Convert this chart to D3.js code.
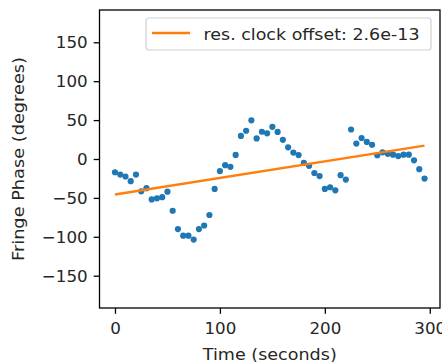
<!DOCTYPE html>
<html>
<head>
<meta charset="utf-8">
<script src="https://cdn.jsdelivr.net/npm/d3@7"></script>
<style>
  html, body { margin: 0; padding: 0; background: #fff; }
  svg { display: block; font-family: "DejaVu Sans", sans-serif; }
</style>
</head>
<body>
<svg id="chart" width="442" height="362"></svg>
<script>
// ---- data ----
const times = [0,5,10,15,20,25,30,35,40,45,50,55,60,65,70,75,80,85,90,95,
  100,105,110,115,120,125,130,135,140,145,150,155,160,165,170,175,180,185,190,195,
  200,205,210,215,220,225,230,235,240,245,250,255,260,265,270,275,280,285,290,295];
const phases = [-17,-20,-22.5,-28.5,-20,-41.5,-37.5,-52,-50.5,-49,-42,-66.5,-90,-98.5,-98.5,-103.5,-90,-85.5,-72,-38.5,
  -15.5,-8,-10,5.2,29.7,36.3,49.7,26.5,35,33,41.3,34.8,24.7,15,8.2,5,-5,-8.8,-18,-22,
  -38.5,-36.3,-40.2,-20.8,-26.4,37.9,19.8,27,22,18.3,4.8,8.6,6.7,5.6,3.7,5.6,5.6,-1.7,-13.1,-25.1];
const fitTimes = [0, 295];
const fitPhases = [-45.5, 17.2];
const legendLabel = "res. clock offset: 2.6e-13";
const xTicks = [0, 100, 200, 300];
const yTicks = [-150, -100, -50, 0, 50, 100, 150];
const xLabel = "Time (seconds)";
const yLabel = "Fringe Phase (degrees)";

// ---- layout ----
const svg = d3.select("#chart");
const L = 99.5, R = 440, T = 10, B = 308;
const fontSize = 16.7;

const x = d3.scaleLinear().domain([-14.75, 309.75]).range([L, R]);
const y = d3.scaleLinear().domain([-191.5, 191.5]).range([B, T]);

// points
svg.append("g").selectAll("circle").data(times).join("circle")
  .attr("cx", (d) => x(d))
  .attr("cy", (d, i) => y(phases[i]))
  .attr("r", 3.1)
  .attr("fill", "#1f77b4");

// fit line
svg.append("line")
  .attr("x1", x(fitTimes[0])).attr("y1", y(fitPhases[0]))
  .attr("x2", x(fitTimes[1])).attr("y2", y(fitPhases[1]))
  .attr("stroke", "#ff7f0e").attr("stroke-width", 2.5);

// axes
const xAxis = svg.append("g").attr("transform", `translate(0,${B})`)
  .call(d3.axisBottom(x).tickValues(xTicks).tickFormat(d3.format("d")).tickSize(5.8).tickPadding(8).tickSizeOuter(0));
const yAxis = svg.append("g").attr("transform", `translate(${L},0)`)
  .call(d3.axisLeft(y).tickValues(yTicks).tickFormat(d3.format("d")).tickSize(5.8).tickPadding(6).tickSizeOuter(0));
[xAxis, yAxis].forEach(g => {
  g.select(".domain").remove();
  g.selectAll("line").attr("stroke", "#000").attr("stroke-width", 1.3);
  g.selectAll("text").attr("font-size", fontSize).attr("font-family", "DejaVu Sans").attr("fill", "#262626");
});

// frame
svg.append("rect")
  .attr("x", L).attr("y", T).attr("width", R - L).attr("height", B - T)
  .attr("fill", "none").attr("stroke", "#000").attr("stroke-width", 1.3);

// legend
const lg = svg.append("g");
lg.append("rect")
  .attr("x", 146).attr("y", 18).attr("width", 285).attr("height", 32).attr("rx", 3)
  .attr("fill", "#fff").attr("fill-opacity", 0.8)
  .attr("stroke", "#d0d0d0").attr("stroke-width", 1.2);
lg.append("line").attr("x1", 152).attr("x2", 190).attr("y1", 33).attr("y2", 33)
  .attr("stroke", "#ff7f0e").attr("stroke-width", 2.5);
lg.append("text").attr("x", 203.5).attr("y", 39.5)
  .attr("font-size", fontSize).attr("fill", "#262626")
  .attr("textLength", 216).attr("lengthAdjust", "spacingAndGlyphs").text(legendLabel);

// axis labels
svg.append("text").attr("x", (L + R) / 2).attr("y", 359.5)
  .attr("text-anchor", "middle").attr("font-size", fontSize).attr("fill", "#262626")
  .attr("textLength", 134).attr("lengthAdjust", "spacingAndGlyphs").text(xLabel);
svg.append("text").attr("transform", `translate(24,${(T + B) / 2}) rotate(-90)`)
  .attr("text-anchor", "middle").attr("font-size", fontSize).attr("fill", "#262626")
  .attr("textLength", 204).attr("lengthAdjust", "spacingAndGlyphs").text(yLabel);
</script>
</body>
</html>
